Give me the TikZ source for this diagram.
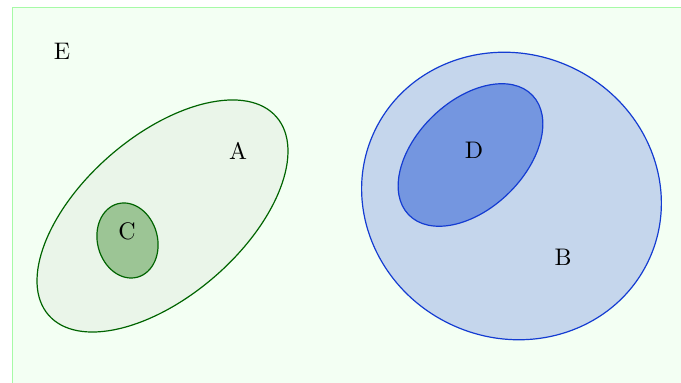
\documentclass[tikz,border=0pt]{standalone}
\usetikzlibrary{shapes.geometric}
\definecolor{bgfill}{RGB}{243,255,243}
\definecolor{bgline}{RGB}{166,250,166}
\definecolor{afill}{RGB}{234,245,233}
\definecolor{cfill}{RGB}{156,197,149}
\definecolor{gline}{RGB}{0,100,0}
\definecolor{bfill}{RGB}{197,214,236}
\definecolor{dfill}{RGB}{116,150,224}
\definecolor{bline}{RGB}{20,60,210}
\begin{document}
\begin{tikzpicture}[x=0.014684cm,y=0.014684cm,
  setA/.style={fill=afill,draw=gline,line width=0.5pt},
  setC/.style={fill=cfill,draw=gline,line width=0.5pt},
  setB/.style={fill=bfill,draw=bline,line width=0.5pt},
  setD/.style={fill=dfill,draw=bline,line width=0.5pt},
  lab/.style={inner sep=0pt,font=\normalsize}]
\useasboundingbox (0,0) rectangle (681,383);
\fill[bgfill,draw=bgline] (12,-10) rectangle (695,376);
% A
\draw[setA,shift={(162.5,167)},rotate=41] (0,0) ellipse [x radius=151, y radius=80];
% C
\draw[setC,shift={(127.5,142.5)},rotate=15] (0,0) ellipse [x radius=30, y radius=38];
% B
\draw[setB,shift={(511.5,187)},rotate=-25] (0,0) ellipse [x radius=151.5, y radius=142];
% D
\draw[setD,shift={(470.5,228)},rotate=44] (0,0) ellipse [x radius=86, y radius=54];
\node[lab] (E) at (62,332) {E};
\node[lab] (A) at (238,232) {A};
\node[lab] (C) at (127,152) {C};
\node[lab] (D) at (474,233) {D};
\node[lab] (B) at (563,126) {B};
\end{tikzpicture}
\end{document}
